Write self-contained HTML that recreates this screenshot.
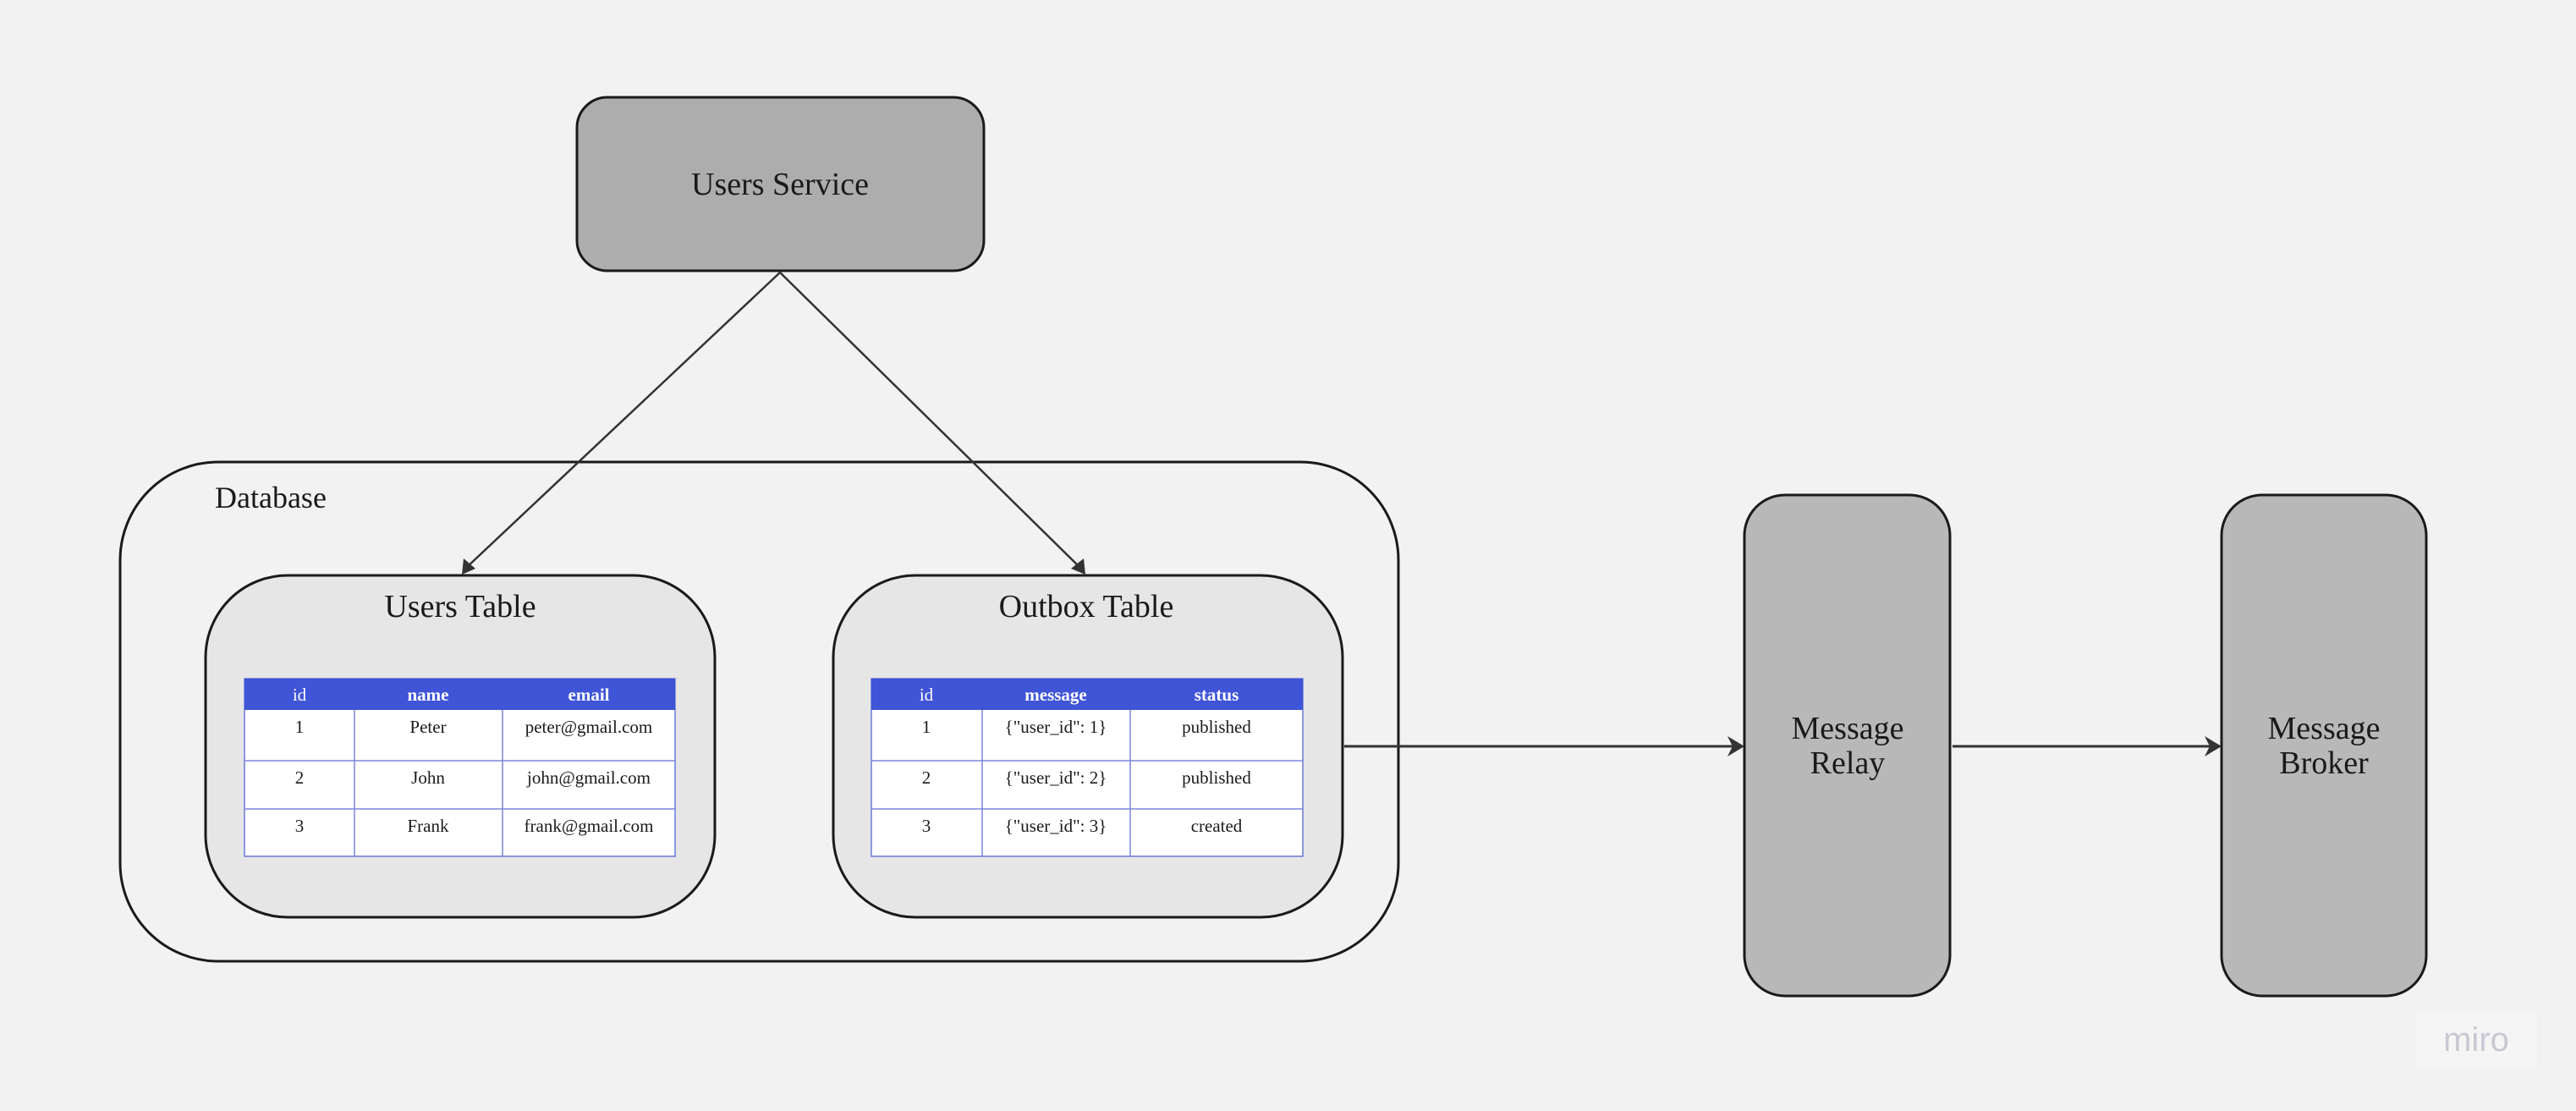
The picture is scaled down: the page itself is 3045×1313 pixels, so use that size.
<!DOCTYPE html>
<html><head><meta charset="utf-8"><style>
html,body{margin:0;padding:0;background:#f2f2f2;}
svg{display:block;font-family:"Liberation Serif",serif;}
</style></head><body>
<svg width="3045" height="1313" viewBox="0 0 3045 1313" xmlns="http://www.w3.org/2000/svg">
<defs>
<marker id="a" markerWidth="10" markerHeight="10" refX="9" refY="5" orient="auto" markerUnits="userSpaceOnUse" viewBox="0 0 10 10">
</marker>
</defs>
<rect width="3045" height="1313" fill="#f2f2f2"/>
<!-- Users Service -->
<rect x="682" y="115" width="481" height="205" rx="36" fill="#adadad" stroke="#1a1a1a" stroke-width="3"/>
<text x="922" y="230" font-size="38" text-anchor="middle" fill="#1a1a1a">Users Service</text>
<!-- Database -->
<rect x="142" y="546" width="1511" height="590" rx="116" fill="#f2f2f2" stroke="#1a1a1a" stroke-width="3"/>
<text x="254" y="600" font-size="36" fill="#1a1a1a">Database</text>
<!-- tables -->
<g>
<rect x="243" y="680" width="602" height="404" rx="97" fill="#e6e6e6" stroke="#1a1a1a" stroke-width="3"/>
<text x="544" y="729" font-size="38" text-anchor="middle" fill="#1a1a1a">Users Table</text>
<rect x="289" y="802" width="509" height="210" fill="#fff" stroke="#6a78d8" stroke-width="1.5"/>
<rect x="289" y="802" width="509" height="37" fill="#3f54d6"/>
<g stroke="#7a86d8" stroke-width="1.5"><line x1="289" y1="899" x2="798" y2="899"/><line x1="289" y1="956" x2="798" y2="956"/><line x1="419" y1="839" x2="419" y2="1012"/><line x1="594" y1="839" x2="594" y2="1012"/></g>
<g font-size="21" text-anchor="middle" fill="#1a1a1a">
<text x="354" y="828" fill="#fff">id</text><text x="506" y="828" fill="#fff" font-weight="bold">name</text><text x="696" y="828" fill="#fff" font-weight="bold">email</text>
<text x="354" y="866">1</text><text x="506" y="866">Peter</text><text x="696" y="866">peter@gmail.com</text>
<text x="354" y="926">2</text><text x="506" y="926">John</text><text x="696" y="926">john@gmail.com</text>
<text x="354" y="983">3</text><text x="506" y="983">Frank</text><text x="696" y="983">frank@gmail.com</text>
</g>
</g>
<g>
<rect x="985" y="680" width="602" height="404" rx="97" fill="#e6e6e6" stroke="#1a1a1a" stroke-width="3"/>
<text x="1284" y="729" font-size="38" text-anchor="middle" fill="#1a1a1a">Outbox Table</text>
<rect x="1030" y="802" width="510" height="210" fill="#fff" stroke="#6a78d8" stroke-width="1.5"/>
<rect x="1030" y="802" width="510" height="37" fill="#3f54d6"/>
<g stroke="#7a86d8" stroke-width="1.5"><line x1="1030" y1="899" x2="1540" y2="899"/><line x1="1030" y1="956" x2="1540" y2="956"/><line x1="1161" y1="839" x2="1161" y2="1012"/><line x1="1336" y1="839" x2="1336" y2="1012"/></g>
<g font-size="21" text-anchor="middle" fill="#1a1a1a">
<text x="1095" y="828" fill="#fff">id</text><text x="1248" y="828" fill="#fff" font-weight="bold">message</text><text x="1438" y="828" fill="#fff" font-weight="bold">status</text>
<text x="1095" y="866">1</text><text x="1248" y="866">{"user_id": 1}</text><text x="1438" y="866">published</text>
<text x="1095" y="926">2</text><text x="1248" y="926">{"user_id": 2}</text><text x="1438" y="926">published</text>
<text x="1095" y="983">3</text><text x="1248" y="983">{"user_id": 3}</text><text x="1438" y="983">created</text>
</g>
</g>
<!-- Relay & Broker -->
<rect x="2062" y="585" width="243" height="592" rx="48" fill="#b8b8b8" stroke="#1a1a1a" stroke-width="3"/>
<text x="2184" y="873" font-size="38" text-anchor="middle" fill="#1a1a1a">Message</text>
<text x="2184" y="914" font-size="38" text-anchor="middle" fill="#1a1a1a">Relay</text>
<rect x="2626" y="585" width="242" height="592" rx="48" fill="#b8b8b8" stroke="#1a1a1a" stroke-width="3"/>
<text x="2747" y="873" font-size="38" text-anchor="middle" fill="#1a1a1a">Message</text>
<text x="2747" y="914" font-size="38" text-anchor="middle" fill="#1a1a1a">Broker</text>
<!-- connectors -->
<g stroke="#333" stroke-width="2.5" fill="none">
<line x1="922" y1="322" x2="550" y2="672"/>
<line x1="922" y1="322" x2="1278" y2="672"/>
<line x1="1589" y1="882" x2="2055" y2="882" stroke-width="3"/>
<line x1="2308" y1="882" x2="2619" y2="882" stroke-width="3"/>
</g>
<g fill="#333">
<polygon points="546,679 548,660 562,672"/>
<polygon points="1283,679 1266,672 1281,660"/>
<polygon points="2062,882 2042,870 2048,882 2042,894"/>
<polygon points="2626,882 2606,870 2612,882 2606,894"/>
</g>
<!-- miro -->
<rect x="2855" y="1195" width="144" height="67" fill="#f5f5f5"/>
<text x="2927" y="1242" font-size="40" text-anchor="middle" fill="#c8c8d4" font-family="Liberation Sans, sans-serif">miro</text>
</svg>
</body></html>
